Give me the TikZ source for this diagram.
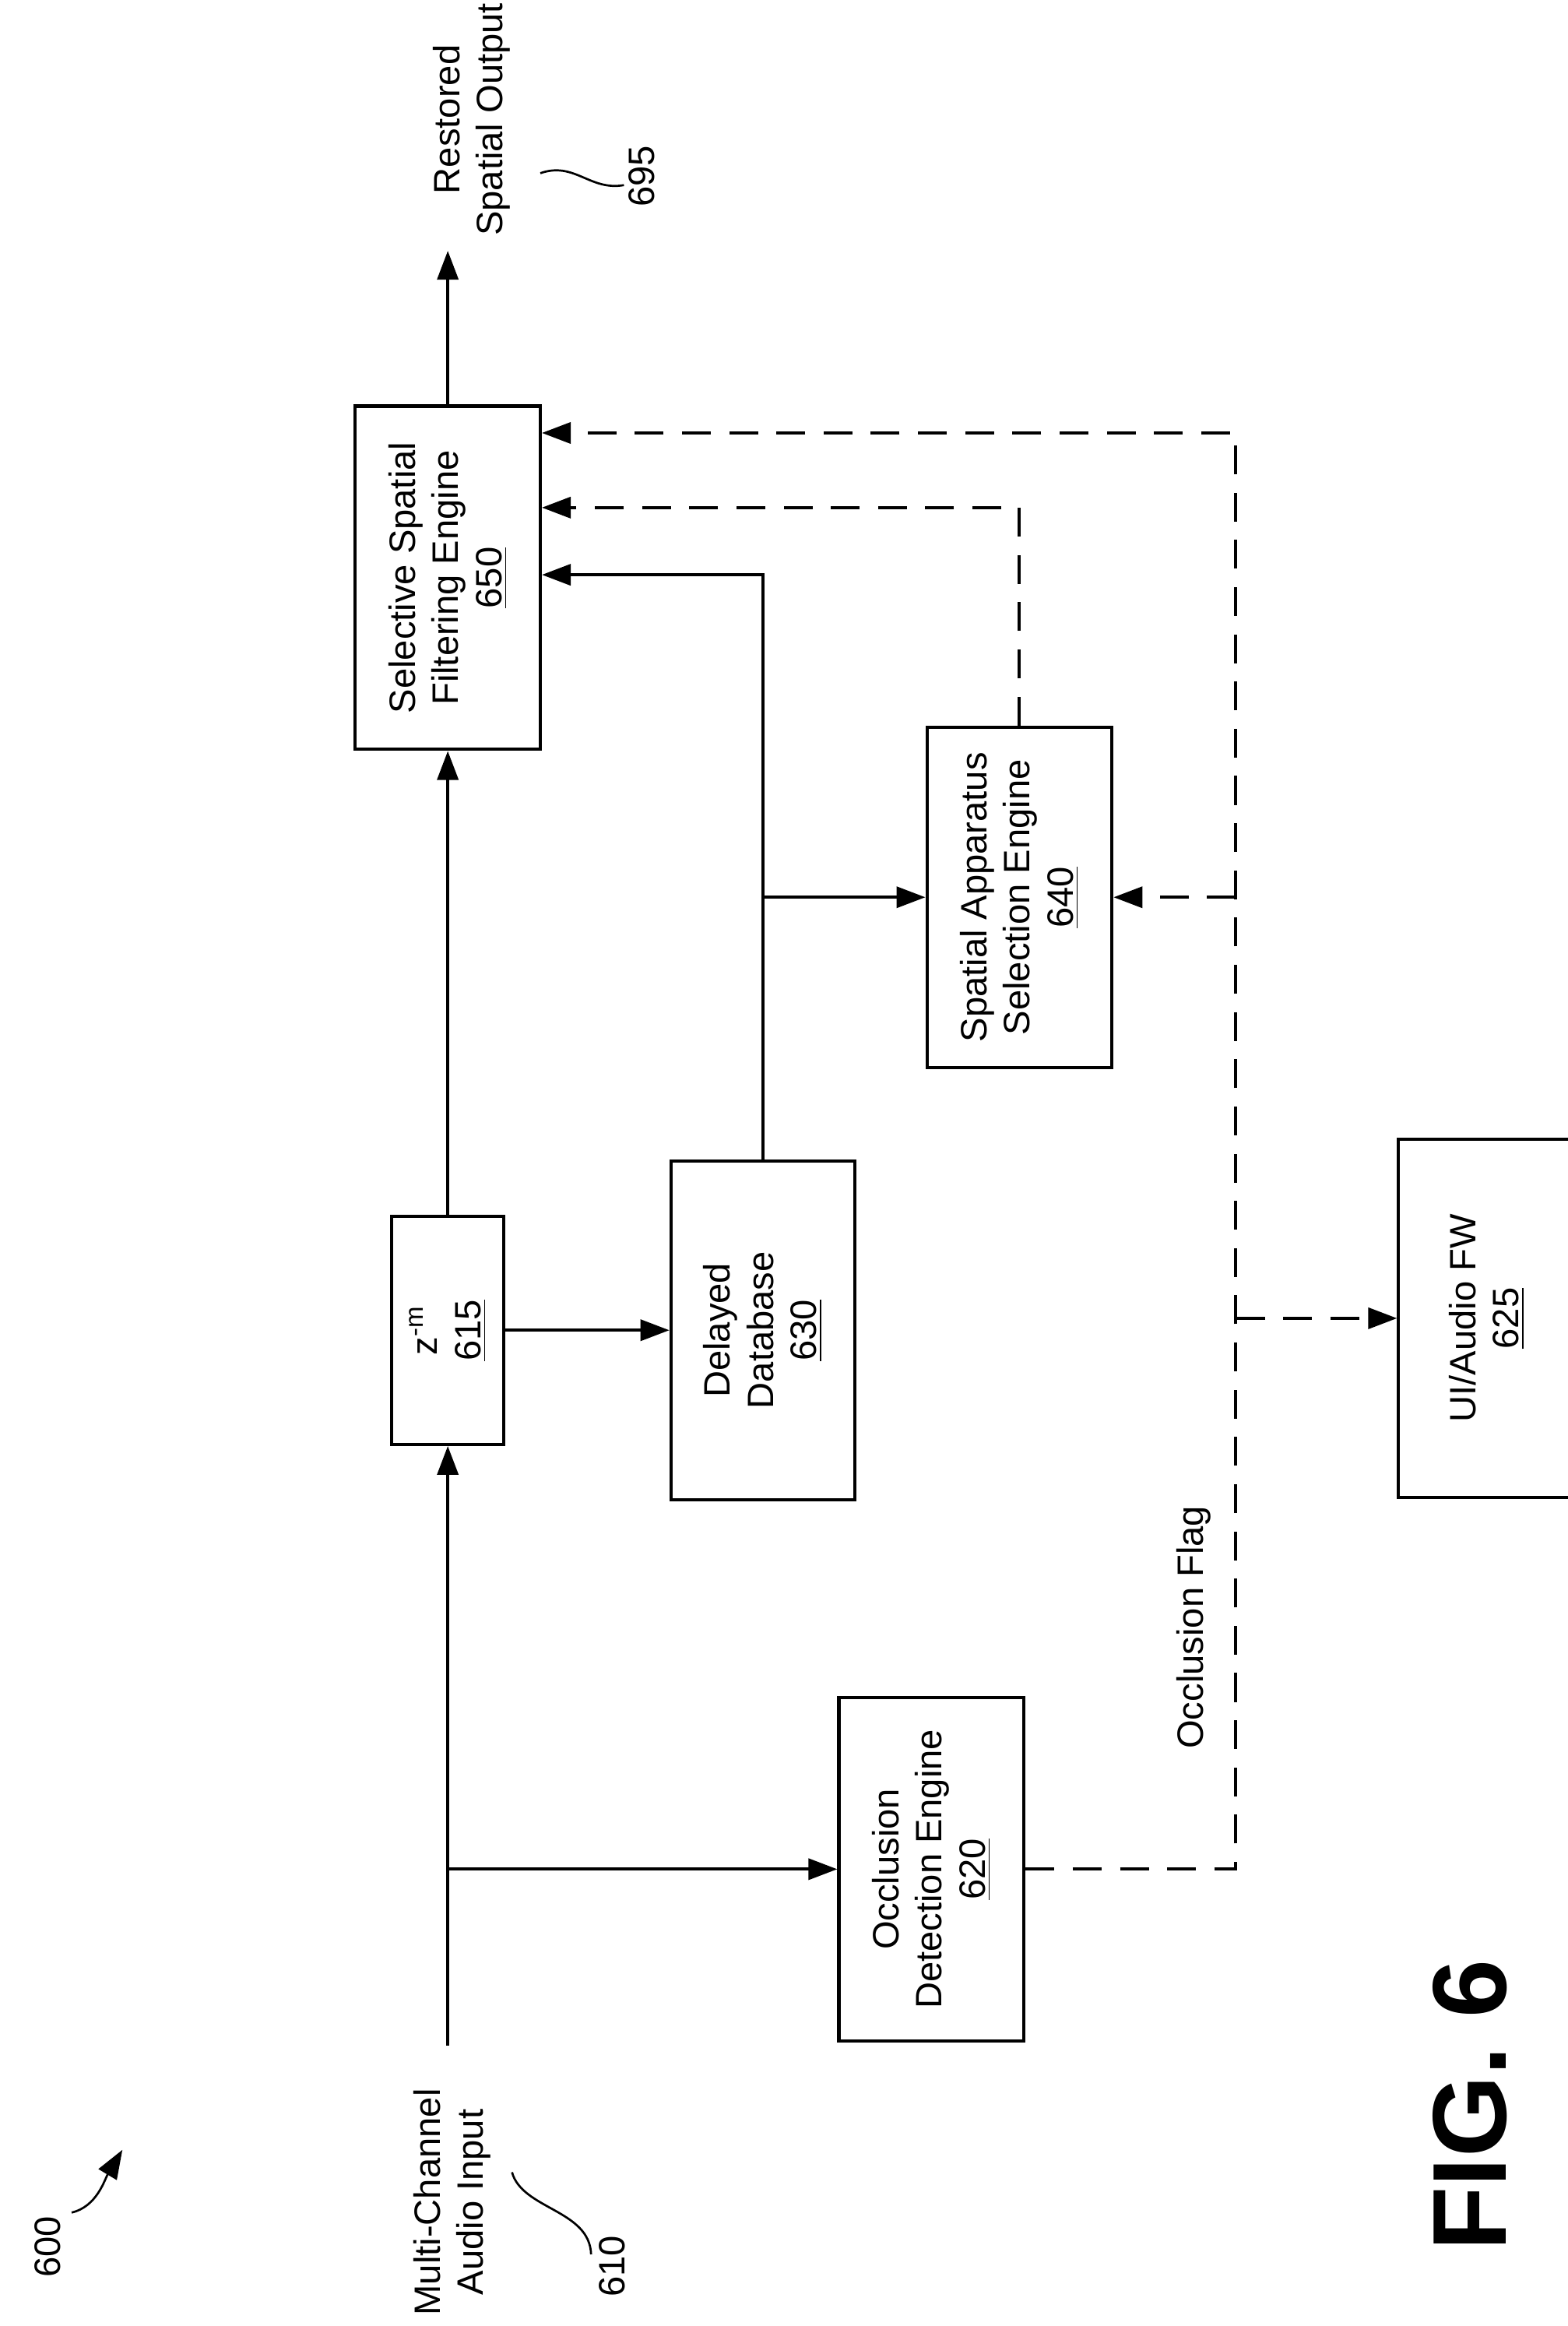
\documentclass[tikz,border=0pt]{standalone}
\usepackage{fontspec}
\setmainfont{Liberation Sans}
\usetikzlibrary{positioning,arrows.meta}

\tikzset{
    blk/.style={draw, line width=1.2pt, rotate=90, align=center, inner sep=2pt,
        font=\fontsize{14}{16.5}\selectfont},
    arr/.style={-{Triangle[length=11pt,width=8pt]}, line width=1.2pt},
    dsh/.style={arr, dash pattern=on 11pt off 7pt},
    lbl/.style={rotate=90, align=center, font=\fontsize{14}{16.5}\selectfont}
}

\begin{document}
\begin{tikzpicture}[x=0.02cm,y=-0.02cm]
    \useasboundingbox (0,0) rectangle (1050,1558);

    % Blocks
    \node[blk, minimum width=230*0.02cm, minimum height=124*0.02cm] (sel) at (300,387)
        {Selective Spatial\\Filtering Engine\\\underline{650}};
    \node[blk, minimum width=153*0.02cm, minimum height=75*0.02cm] (dly) at (300,891)
        {z\textsuperscript{-m}\\\underline{615}};
    \node[blk, minimum width=227*0.02cm, minimum height=123*0.02cm] (db) at (511,891)
        {Delayed\\Database\\\underline{630}};
    \node[blk, minimum width=228*0.02cm, minimum height=124*0.02cm] (app) at (683,601)
        {Spatial Apparatus\\Selection Engine\\\underline{640}};
    \node[blk, minimum width=230*0.02cm, minimum height=124*0.02cm] (occ) at (624,1252)
        {Occlusion\\Detection Engine\\\underline{620}};
    \node[blk, minimum width=240*0.02cm, minimum height=118*0.02cm] (ui) at (996,883)
        {UI/Audio FW\\\underline{625}};

    % Points
    \coordinate (in) at (300,1370);
    \coordinate (out) at (300,168);
    \coordinate (split) at (300,1252);
    \coordinate (dbtop) at (db.east |- 0,385);
    \coordinate (dbmid) at (db.east |- app.south);
    \coordinate (apptop) at (app.east |- 0,340);
    \coordinate (flagA) at (828,1252);
    \coordinate (flagB) at (828,290);

    % Solid paths
    \draw[arr] (in) -- (dly.west);
    \draw[arr] (split) -- (occ.north);
    \draw[arr] (dly.east) -- (sel.west);
    \draw[arr] (dly.south) -- (db.north);
    \draw[arr] (db.east) -- (dbtop) -- (sel.south |- dbtop);
    \draw[arr] (dbmid) -- (app.north);
    \draw[arr] (sel.east) -- (out);

    % Dashed paths
    \draw[dsh] (app.east) -- (apptop) -- (sel.south |- apptop);
    \draw[dsh] (occ.south) -- (flagA) -- (flagB) -- (sel.south |- flagB);
    \draw[dsh] (828,601) -- (app.south);
    \draw[dsh] (828,883) -- (ui.north);

    % Labels
    \node[lbl] (outlbl) at (316,80) {Restored\\Spatial Output};
    \node[lbl] (n695) at (430,118) {695};
    \draw[line width=0.8pt] (362,116) .. controls (385,108) and (395,128) .. (418,124);
    \node[lbl] (inlbl) at (303,1475) {Multi-Channel\\Audio Input};
    \node[lbl] (n610) at (410,1518) {610};
    \draw[line width=0.8pt] (343,1455) .. controls (350,1480) and (395,1480) .. (396,1510);
    \node[lbl] (flag) at (800,1090) {Occlusion Flag};
    \node[lbl] (n600) at (32,1505) {600};
    \draw[arr, line width=0.8pt] (48,1482) .. controls (65,1478) and (70,1460) .. (82,1440);
    \node[rotate=90, font=\bfseries\fontsize{40}{44}\selectfont] (fig) at (985,1410) {FIG. 6};
\end{tikzpicture}
\end{document}
